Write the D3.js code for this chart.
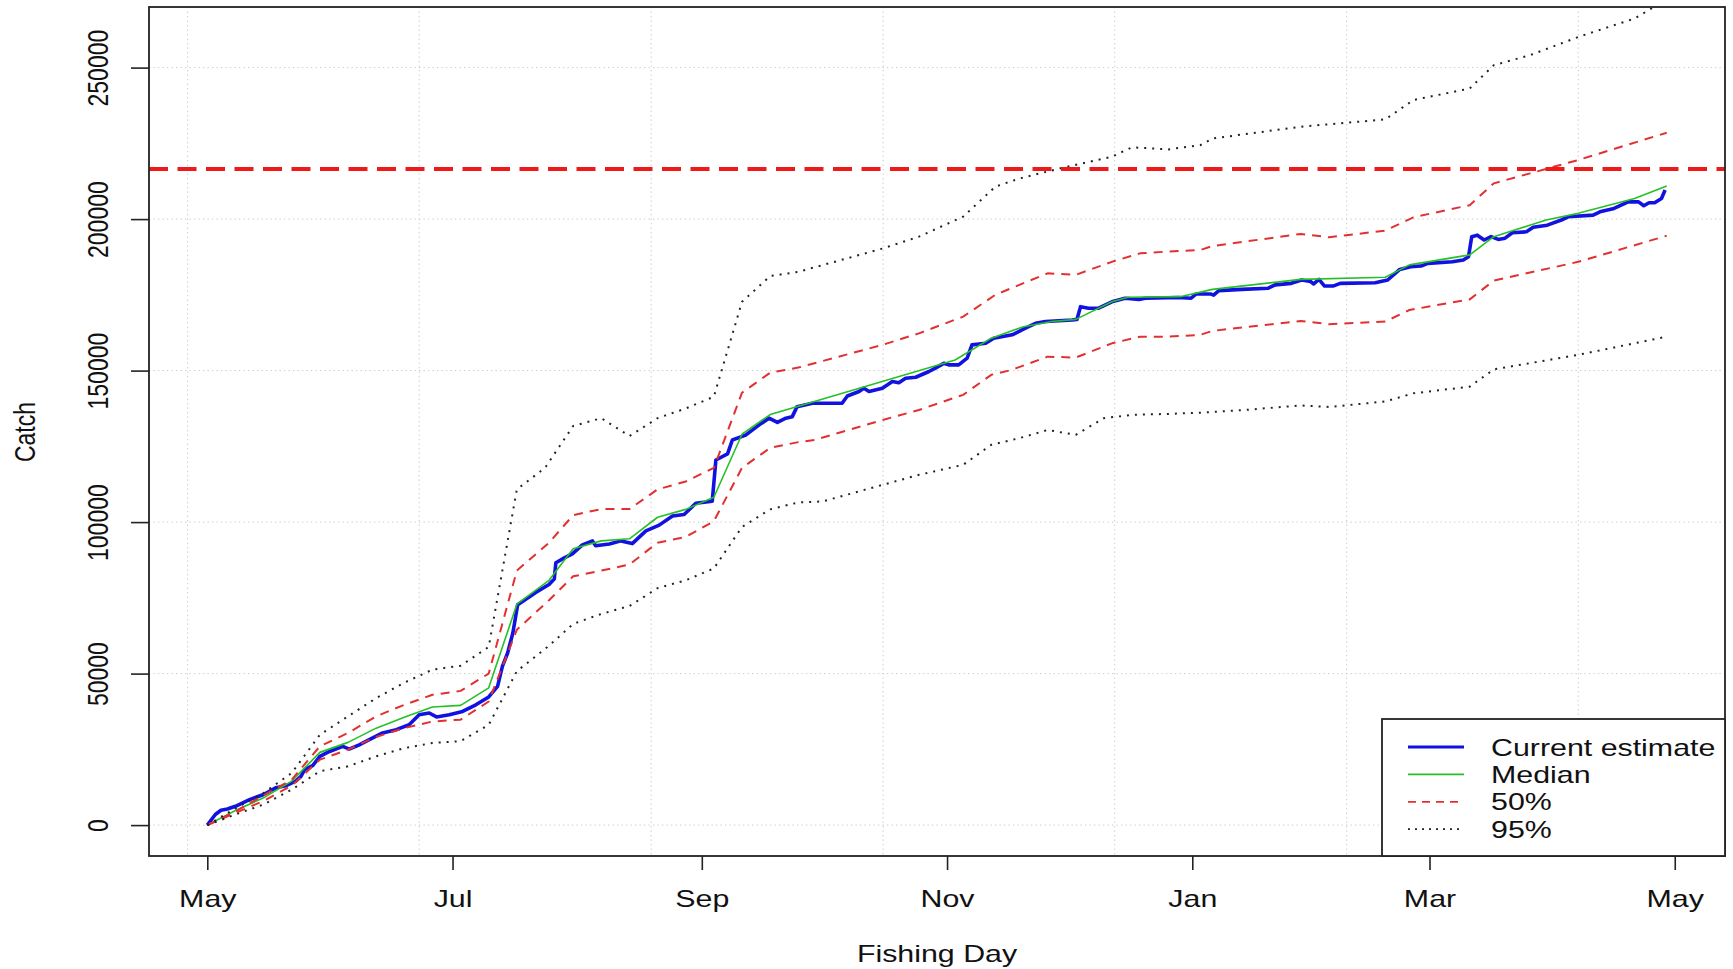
<!DOCTYPE html>
<html lang="en">
<head>
<meta charset="UTF-8" />
<title>Catch by Fishing Day</title>
<script src="https://d3js.org/d3.v7.min.js"></script>
<style>
  body { margin: 0; background: #fff; }
  svg text { font-family: "Liberation Sans", Arial, sans-serif; }
</style>
</head>
<body>
<svg width="1733" height="969"></svg>
<script>
// x is days since 1 May
const monthDays = [0, 61, 123, 184, 245, 304, 365];
const monthLabels = ["May", "Jul", "Sep", "Nov", "Jan", "Mar", "May"];
const catchTicks = [0, 50000, 100000, 150000, 200000, 250000];
const gridDays = [-4.9, 52.7, 110.4, 168.1, 225.7, 283.4, 341.0];
const catchLimit = 216500;
const legendLabels = ["Current estimate", "Median", "50%", "95%"];

// daily running estimate
const current = [[0,0],[2,3500],[3.4,4900],[5,5300],[7,6200],[10.5,8400],[14,10100],[17,12300],[19.6,13000],
  [22,14500],[23.3,16100],[24.2,18300],[26.2,19600],[28,22700],[30.4,24300],[33.7,26000],[35.3,25100],
  [37.8,26500],[40.3,28200],[43.6,30400],[47,31500],[50.2,33100],[52.7,36400],[55.2,37000],[57,35700],
  [60.2,36400],[63.5,37500],[66.8,39700],[70,42300],[72.2,45800],[73.4,52400],[74.7,56800],[76,63400],
  [77.2,72700],[78.4,73800],[81.7,76800],[85,79400],[86.3,81200],[86.7,86600],[88.8,88200],[90.8,89500],
  [93.3,92500],[95.8,93800],[96.6,92200],[100,92800],[102.9,93800],[105.7,92900],[109.1,97100],[112.4,99000],
  [115.7,102000],[118.6,102500],[121.5,106200],[125.6,106900],[126.5,120500],[129.4,122500],[130.6,127100],
  [133.9,128700],[137.2,132000],[139.7,134300],[141.8,132900],[143.9,134300],[145.5,134800],[146.7,138100],
  [150.5,139200],[157.9,139200],[159.2,141600],[162.1,143100],[163.3,144200],[164.6,143100],[167.9,144200],
  [170.4,146400],[172,146000],[173.7,147500],[176.2,147800],[179.5,149700],[181.1,150800],[183.2,152400],
  [184.4,151900],[186.9,151900],[189,154100],[190.2,158500],[193.6,159000],[195.6,160700],[200.2,161800],
  [203.5,164000],[206,165600],[208.5,166200],[215.1,166700],[216.3,166900],[217.2,171100],[219.2,170600],
  [221.7,170600],[225,172700],[228.3,173900],[231.7,173500],[233.3,173900],[241.6,174100],[244.7,173900],
  [246,175300],[249.5,175300],[250.3,174900],[251.6,176400],[257.3,176800],[263.9,177200],[265.6,178300],
  [269.6,178800],[272.2,179900],[274.4,179400],[275.2,178600],[276.5,180100],[277.9,177900],[280,177900],
  [281.8,178800],[290.5,179000],[293.6,179900],[296.6,183400],[299.3,184300],[301.9,184500],[303.6,185400],
  [309.7,185900],[312.4,186500],[313.7,187600],[314.5,194200],[315.9,194700],[317.6,193100],[319.3,194200],
  [321.1,193300],[322.8,193700],[324.6,195500],[328.1,195800],[329.8,197300],[333.3,198000],[336.8,199700],
  [338.6,200800],[344.7,201300],[346.4,202400],[349.9,203500],[353.4,205700],[356,205700],[357.3,204400],
  [358.6,205400],[360,205400],[361.7,206800],[362.6,209600]];

const median = [[0,0],[7,4800],[14,9000],[21,14500],[28,24000],[35,27300],[42,32000],[49,35600],[56,39000],
  [63,39500],[70,45300],[77,72900],[85,80800],[91,91200],[98,93800],[105,94500],[112,101600],[119,104200],
  [126,108200],[133,129000],[140,135500],[147,138200],[186,153500],[195,160700],[203,164500],[210,166200],
  [216,166900],[225,172700],[229,174200],[242,174400],[250,176800],[272,180100],[293,180800],[299,184900],
  [314,188200],[320,194200],[333,199700],[341,201900],[355,206800],[363,210900]];

const upper50 = [[0,0],[7,4500],[14,9800],[21,15000],[28,26000],[35,30400],[42,35900],[49,39700],[56,43000],
  [63,44300],[70,50000],[77,84000],[85,93200],[91,102300],[98,104300],[105,104300],[112,110800],[119,113400],
  [126,117900],[133,142700],[140,149300],[147,151000],[168,158500],[177,162300],[188,167800],[196,175000],
  [200,177200],[209,182100],[216,181600],[225,185900],[232,188700],[239,189300],[247,189800],[250,191100],
  [272,195100],[279,194000],[293,196200],[300,200600],[314,204600],[320,211800],[329,215100],[341,219500],
  [363,228500]];

const lower50 = [[0,0],[7,4000],[14,8000],[21,13000],[28,21600],[35,24900],[42,29100],[49,32000],[56,34200],
  [63,34800],[70,40800],[77,64500],[85,74200],[91,82100],[98,84000],[105,86000],[112,93200],[119,95100],
  [126,100300],[133,117900],[140,124500],[147,126400],[151,127100],[168,133700],[177,137000],[188,142000],
  [195,148600],[200,150200],[209,154600],[216,154300],[225,159000],[232,161200],[239,161200],[247,161800],
  [250,163100],[272,166400],[279,165300],[293,166200],[299,170000],[314,173500],[320,179700],[341,185900],
  [363,194500]];

const upper95 = [[0,0],[7,5500],[14,10600],[21,17200],[28,29800],[35,35900],[42,41900],[49,47000],[56,51300],
  [63,52600],[70,58800],[77,110800],[84,117900],[91,131700],[98,134300],[105,128400],[112,134300],[119,137500],
  [126,141400],[133,172700],[140,181200],[147,182600],[168,190300],[177,194200],[188,200800],[196,210700],
  [202,213400],[212,216700],[225,220600],[230,223700],[239,223000],[247,224400],[250,226600],[272,230500],
  [293,232900],[300,239300],[314,243100],[320,250800],[329,254100],[341,260100],[355,266200],[363,272500]];

const lower95 = [[0,0],[7,3500],[14,6800],[21,11700],[28,17800],[35,19400],[42,22700],[49,25400],[56,27100],
  [63,27700],[70,33100],[77,50800],[85,59200],[91,66400],[98,69700],[105,72300],[112,78200],[119,80800],
  [126,84700],[133,98400],[140,104200],[147,106500],[153,106800],[168,112300],[177,115600],[188,118900],
  [195,125500],[202,127700],[209,130400],[216,128800],[223,134300],[230,135400],[239,135700],[247,136100],
  [258,137000],[272,138500],[279,138000],[293,139800],[300,142500],[314,144700],[320,150400],[341,155200],
  [363,161200]];

const svg = d3.select("svg");
const plot = { left: 149, right: 1725, top: 7, bottom: 856 };
const SX = 1.32; // source picture was stretched sideways, text too
const FS = 23;

const x = d3.scaleLinear().domain([-14.5, 377.5]).range([plot.left, plot.right]);
const y = d3.scaleLinear().domain([-10200, 270000]).range([plot.bottom, plot.top]);

svg.append("clipPath").attr("id", "clip").append("rect")
  .attr("x", plot.left).attr("y", plot.top)
  .attr("width", plot.right - plot.left).attr("height", plot.bottom - plot.top);

// grid
svg.append("g").selectAll("line").data(gridDays).join("line")
  .attr("x1", d => x(d)).attr("x2", d => x(d))
  .attr("y1", plot.top).attr("y2", plot.bottom)
  .attr("stroke", "#c8c8c8").attr("stroke-dasharray", "1.3,3.2");
svg.append("g").selectAll("line").data(catchTicks).join("line")
  .attr("x1", plot.left).attr("x2", plot.right)
  .attr("y1", d => y(d)).attr("y2", d => y(d))
  .attr("stroke", "#c8c8c8").attr("stroke-dasharray", "1.3,3.2");

// series
const line = d3.line().x(d => x(d[0])).y(d => y(d[1]));
const series = [
  { data: current, color: "#1212e0", width: 3.6, dash: null },
  { data: median, color: "#26c026", width: 1.6, dash: null },
  { data: upper50, color: "#e23030", width: 2, dash: "9,7" },
  { data: lower50, color: "#e23030", width: 2, dash: "9,7" },
  { data: upper95, color: "#222", width: 2, dash: "2,6" },
  { data: lower95, color: "#222", width: 2, dash: "2,6" }
];
const lines = svg.append("g").attr("clip-path", "url(#clip)");
series.forEach(s => {
  lines.append("path")
    .attr("d", line(s.data))
    .attr("fill", "none")
    .attr("stroke", s.color)
    .attr("stroke-width", s.width)
    .attr("stroke-linejoin", "round")
    .attr("stroke-dasharray", s.dash);
});

// catch limit
lines.append("line")
  .attr("x1", plot.left).attr("x2", plot.right)
  .attr("y1", y(catchLimit)).attr("y2", y(catchLimit))
  .attr("stroke", "#ee1a1a").attr("stroke-width", 4)
  .attr("stroke-dasharray", "19,9.5");

// axes
const xAxis = svg.append("g")
  .attr("transform", `translate(0,${plot.bottom})`)
  .call(d3.axisBottom(x).tickValues(monthDays).tickFormat((d, i) => monthLabels[i]).tickSize(14))
  .attr("font-size", FS).attr("font-family", null).style("color", "#111");
xAxis.select(".domain").remove();
xAxis.selectAll(".tick line").attr("stroke", "#222").attr("stroke-width", 1.6);
xAxis.selectAll(".tick text")
  .attr("y", 51).attr("dy", null)
  .attr("transform", `scale(${SX},1)`);

const yAxis = svg.append("g")
  .attr("transform", `translate(${plot.left},0)`)
  .call(d3.axisLeft(y).tickValues(catchTicks).tickFormat(d3.format("d")).tickSize(18))
  .attr("font-size", FS).attr("font-family", null).style("color", "#111");
yAxis.select(".domain").remove();
yAxis.selectAll(".tick line").attr("stroke", "#222").attr("stroke-width", 1.6);
yAxis.selectAll(".tick text")
  .attr("x", null).attr("dy", null)
  .attr("text-anchor", "middle")
  .attr("transform", `translate(-41,0) scale(${SX},1) rotate(-90)`);

// box
svg.append("rect")
  .attr("x", plot.left).attr("y", plot.top)
  .attr("width", plot.right - plot.left).attr("height", plot.bottom - plot.top)
  .attr("fill", "none").attr("stroke", "#222").attr("stroke-width", 1.8);

// axis titles
svg.append("text")
  .attr("transform", `translate(${(plot.left + plot.right) / 2},962) scale(${SX},1)`)
  .attr("text-anchor", "middle").attr("font-size", FS).attr("fill", "#111")
  .text("Fishing Day");
svg.append("text")
  .attr("transform", `translate(35,432) scale(${SX},1) rotate(-90)`)
  .attr("text-anchor", "middle").attr("font-size", FS).attr("fill", "#111")
  .text("Catch");

// legend
const leg = svg.append("g");
leg.append("rect")
  .attr("x", 1382).attr("y", 719)
  .attr("width", plot.right - 1382).attr("height", plot.bottom - 719)
  .attr("fill", "#fff").attr("stroke", "#222").attr("stroke-width", 1.8);
const legStyle = [
  { color: "#1212e0", width: 3, dash: null },
  { color: "#26c026", width: 1.6, dash: null },
  { color: "#e23030", width: 1.8, dash: "8,6" },
  { color: "#222", width: 1.8, dash: "2,5" }
];
legendLabels.forEach((label, i) => {
  const yy = 747 + i * 27.4;
  leg.append("line")
    .attr("x1", 1408).attr("x2", 1464).attr("y1", yy).attr("y2", yy)
    .attr("stroke", legStyle[i].color).attr("stroke-width", legStyle[i].width)
    .attr("stroke-dasharray", legStyle[i].dash);
  leg.append("text")
    .attr("transform", `translate(1491,${yy + 8.5}) scale(${SX},1)`)
    .attr("font-size", FS).attr("fill", "#111")
    .text(label);
});
</script>
</body>
</html>
